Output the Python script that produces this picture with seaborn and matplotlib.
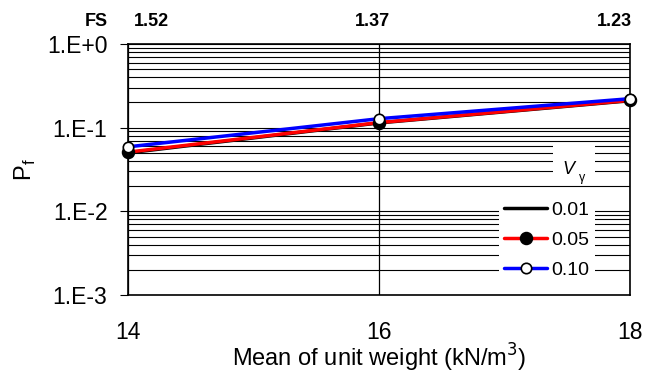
import numpy as np
import pandas as pd
import matplotlib
matplotlib.use("Agg")
import matplotlib.pyplot as plt
from matplotlib.patches import Rectangle
import seaborn as sns
from matplotlib.ticker import LogLocator, FixedLocator, NullFormatter

# Mean unit weight (kN/m3) and factor of safety at each mean
unit_weight = [14, 16, 18]
fs_values = ["1.52", "1.37", "1.23"]

# Probability of failure for each coefficient of variation of unit weight
cov_labels = ["0.01", "0.05", "0.10"]
pf_001 = [0.050, 0.114, 0.210]
pf_005 = [0.051, 0.115, 0.212]
pf_010 = [0.059, 0.128, 0.222]

y_ticks = [1e-3, 1e-2, 1e-1, 1e0]
y_ticklabels = ["1.E-3", "1.E-2", "1.E-1", "1.E+0"]

sns.set_theme(style="white")
plt.rcParams["font.family"] = ["Liberation Sans", "DejaVu Sans"]
plt.rcParams.update({
    "text.color": "black",
    "axes.labelcolor": "black",
    "xtick.color": "black",
    "ytick.color": "black",
})

df = pd.DataFrame({
    "w": unit_weight * 3,
    "pf": pf_001 + pf_005 + pf_010,
    "cov": [c for c in cov_labels for _ in unit_weight],
})

fig = plt.figure(figsize=(6.56, 3.76), dpi=100)
ax = fig.add_axes([128 / 656, 1 - 295 / 376, 502 / 656, 251 / 376])

styles = {
    "0.01": dict(color="black", marker=None),
    "0.05": dict(color="#ff0000", marker="o", markerfacecolor="black",
                 markeredgecolor="black", markersize=8.5, markeredgewidth=1.2),
    "0.10": dict(color="#0000ff", marker="o", markerfacecolor="white",
                 markeredgecolor="black", markersize=7.5, markeredgewidth=1.2),
}
for i, c in enumerate(cov_labels):
    sub = df[df["cov"] == c]
    sns.lineplot(data=sub, x="w", y="pf", ax=ax, lw=2.5, label=c,
                 clip_on=False, zorder=3 + i, **styles[c])

ax.set_yscale("log")
ax.set_ylim(1e-3, 1e0)
ax.set_xlim(14, 18)

# horizontal grid at every log step, one vertical line at the middle mean
ax.yaxis.set_major_locator(FixedLocator(y_ticks))
ax.set_yticklabels(y_ticklabels)
ax.yaxis.set_minor_locator(LogLocator(base=10, subs=np.arange(2, 10)))
ax.yaxis.set_minor_formatter(NullFormatter())
ax.grid(True, which="both", axis="y", color="black", lw=0.8)
ax.set_xticks(unit_weight)
ax.grid(True, which="major", axis="x", color="black", lw=0.9)
ax.set_axisbelow(True)

ax.tick_params(axis="y", which="major", direction="out", length=5.8, width=0.8,
               color="black", labelcolor="black", pad=9, labelsize=16.5,
               left=True)
ax.tick_params(axis="y", which="minor", length=0)
ax.tick_params(axis="x", length=0, pad=19, labelsize=16.5, labelcolor="black")

for s in ax.spines.values():
    s.set_color("black")
    s.set_linewidth(1.2)

ax.set_xlabel("Mean of unit weight (kN/m$^{3}$)", fontsize=17, labelpad=-1.6,
              color="black")
ax.set_ylabel(r"P$_\mathregular{f}$", fontsize=17, labelpad=6.5, color="black")

# factor of safety labels along the top
offsets = [23, -7, -16]
for x, t, dx in zip(unit_weight, fs_values, offsets):
    ax.annotate(t, xy=(x, 1.0), xycoords=("data", "axes fraction"),
                xytext=(dx * 0.72, 10), textcoords="offset points",
                ha="center", va="bottom", fontsize=13, fontweight="bold",
                color="black")
ax.annotate("FS", xy=(0, 1.0), xycoords="axes fraction",
            xytext=(-32 * 0.72, 10), textcoords="offset points",
            ha="center", va="bottom", fontsize=13, fontweight="bold",
            color="black")

leg = ax.legend(loc="lower right", bbox_to_anchor=(0.93, 0.04), frameon=True,
                fontsize=14, handlelength=2.2, handletextpad=0.2,
                labelspacing=0.65, borderpad=0.3, borderaxespad=0,
                labelcolor="black")
leg.get_frame().set_facecolor("white")
leg.get_frame().set_edgecolor("none")
leg.get_frame().set_alpha(1)
leg.set_zorder(10)

# legend title on its own white panel
ax.add_patch(Rectangle((0.847, 0.438), 0.083, 0.168, transform=ax.transAxes,
                       facecolor="white", edgecolor="none", zorder=10))
ax.text(0.878, 0.5, "V", transform=ax.transAxes, fontsize=13,
        style="italic", ha="center", va="center", zorder=11, color="black")
ax.text(0.905, 0.465, "γ", transform=ax.transAxes, fontsize=9,
        ha="center", va="center", zorder=12, color="black")

fig.savefig("out.png", dpi=100)
